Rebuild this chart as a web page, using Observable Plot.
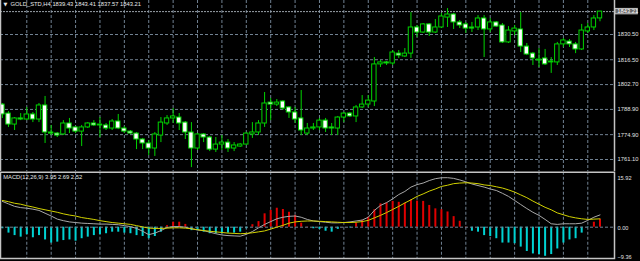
<!DOCTYPE html>
<html><head><meta charset="utf-8">
<script src="https://cdn.jsdelivr.net/npm/d3@7"></script>
<script src="https://cdn.jsdelivr.net/npm/@observablehq/plot@0.6"></script>
<style>
html,body{margin:0;padding:0;background:#000;}
#chart{width:640px;height:261px;overflow:hidden;background:#000;}
#chart svg{display:block;}
</style></head><body><div id="chart"></div>
<script>
const openP = [1791.6,1786.6,1780.5,1783.9,1783.3,1786.1,1783.3,1791.1,1776.1,1775.5,
 1775.0,1781.1,1778.9,1776.6,1778.9,1781.1,1780.5,1780.0,1778.3,1782.2,
 1778.3,1776.6,1775.5,1772.2,1770.0,1767.2,1774.4,1781.1,1783.9,1784.4,
 1781.6,1776.1,1767.2,1775.0,1773.3,1766.6,1769.4,1770.5,1767.2,1768.3,
 1769.4,1775.0,1776.1,1781.1,1792.7,1791.6,1793.3,1790.0,1787.2,1783.9,
 1775.5,1778.3,1778.9,1782.7,1778.9,1778.3,1784.4,1786.6,1785.0,1790.0,
 1791.6,1793.3,1813.9,1815.0,1814.4,1819.9,1818.3,1819.9,1834.4,1831.6,
 1836.1,1831.6,1834.4,1839.9,1841.6,1837.2,1836.1,1834.4,1834.4,1839.4,
 1833.3,1837.2,1835.5,1826.1,1832.2,1833.3,1823.8,1819.9,1816.6,1817.2,
 1815.0,1815.0,1825.0,1826.6,1825.0,1822.2,1832.2,1834.4,1839.43];
const highP = [1792.2,1787.7,1784.4,1786.6,1790.0,1787.2,1792.2,1796.1,1780.0,1776.1,
 1782.7,1783.9,1779.4,1780.0,1781.6,1782.7,1784.4,1781.1,1783.3,1786.1,
 1779.4,1777.2,1776.1,1772.8,1771.6,1776.1,1784.4,1785.5,1789.4,1786.6,
 1782.2,1781.6,1775.5,1775.5,1773.9,1773.3,1774.4,1772.2,1770.5,1770.0,
 1776.1,1781.6,1782.7,1798.3,1795.0,1794.4,1793.8,1790.5,1790.0,1799.4,
 1781.1,1781.1,1783.9,1783.9,1781.1,1785.0,1787.2,1787.2,1791.1,1796.6,
 1796.6,1817.7,1816.1,1815.5,1821.6,1821.6,1822.7,1842.7,1835.5,1836.6,
 1836.6,1838.8,1842.2,1844.9,1842.2,1838.3,1837.2,1837.2,1841.0,1841.0,
 1839.4,1837.7,1836.6,1834.9,1835.5,1842.7,1825.5,1820.5,1822.7,1822.2,
 1817.7,1826.1,1828.3,1827.7,1826.1,1836.1,1836.6,1841.0,1843.41];
const lowP = [1783.9,1778.9,1777.2,1782.7,1782.7,1781.6,1781.6,1770.0,1774.4,1773.3,
 1774.4,1775.5,1775.5,1768.3,1778.3,1779.4,1773.3,1777.2,1777.2,1777.7,
 1775.5,1775.0,1766.6,1766.6,1763.3,1762.8,1770.5,1780.0,1781.1,1777.2,
 1772.2,1756.6,1766.1,1770.5,1765.5,1765.0,1766.1,1765.0,1765.5,1767.8,
 1768.9,1772.8,1774.4,1778.9,1782.7,1790.5,1788.3,1783.9,1781.1,1774.4,
 1774.4,1777.2,1777.2,1776.1,1774.4,1774.4,1781.6,1784.4,1781.6,1789.4,
 1790.0,1790.5,1812.2,1813.3,1813.3,1817.2,1817.7,1817.2,1828.8,1831.1,
 1829.4,1831.1,1833.8,1834.4,1833.3,1833.8,1831.1,1831.6,1832.7,1817.7,
 1831.6,1834.4,1825.5,1825.5,1829.9,1820.5,1818.8,1813.3,1812.2,1813.3,
 1808.9,1813.3,1823.3,1823.3,1819.9,1821.6,1831.1,1832.7,1837.57];
const closeP = [1786.1,1780.5,1783.9,1783.3,1786.1,1783.3,1791.1,1776.1,1775.5,1774.4,
 1781.1,1778.3,1776.6,1778.9,1781.1,1780.0,1780.0,1778.3,1782.2,1778.3,
 1776.6,1775.5,1772.2,1770.0,1767.2,1775.0,1781.6,1783.9,1785.0,1781.1,
 1776.1,1767.2,1775.0,1773.3,1766.6,1769.4,1770.5,1767.2,1768.9,1769.4,
 1775.5,1776.1,1781.1,1792.2,1791.6,1792.7,1789.4,1787.2,1783.3,1777.2,
 1778.3,1778.9,1782.7,1778.3,1778.3,1784.4,1786.6,1785.0,1790.0,1791.6,
 1793.8,1813.9,1815.0,1814.4,1820.5,1818.8,1819.9,1834.4,1831.6,1836.1,
 1831.6,1834.4,1840.5,1841.6,1837.2,1835.5,1833.8,1833.8,1839.4,1833.3,
 1837.2,1834.9,1826.1,1832.7,1833.8,1823.8,1819.4,1817.2,1816.1,1813.9,
 1815.5,1825.0,1827.2,1825.0,1822.2,1832.7,1834.4,1839.4,1843.21];

const macdMain = [8.3,7.5,6.7,6.3,6.1,5.8,5.4,4.5,3.6,2.6,
 2.1,1.7,1.5,1.3,1.2,1.1,1.0,1.0,0.9,0.8,
 0.5,0.2,-0.4,-1.3,-2.4,-1.9,-1.1,-0.1,0.2,0.2,
 0.0,-0.5,-0.9,-1.1,-1.6,-2.1,-2.5,-2.7,-2.8,-2.9,
 -2.3,-1.4,-0.2,0.9,1.8,2.7,3.2,3.5,3.6,3.2,
 2.5,2.0,1.8,1.6,1.4,1.4,1.5,1.7,2.0,2.3,
 3.2,5.4,7.0,7.9,9.1,10.5,11.5,12.9,13.7,14.2,
 15.0,15.6,15.9,15.92,15.7,15.2,14.6,13.9,13.4,12.9,
 12.3,11.8,10.9,9.9,8.6,7.3,6.0,4.8,3.8,2.5,
 1.1,0.9,1.1,1.1,1.1,1.3,2.2,3.2,3.95];
const macdSignal = [8.6,8.2,7.7,7.4,6.9,6.5,6.0,5.6,5.2,4.8,
 4.3,3.9,3.6,3.1,2.8,2.5,2.1,1.8,1.5,1.3,
 1.1,0.9,0.5,0.1,-0.3,-0.4,-0.4,-0.3,-0.2,-0.2,
 -0.3,-0.5,-0.8,-1.1,-1.3,-1.5,-1.7,-1.9,-2.0,-2.1,
 -2.0,-1.8,-1.5,-1.2,-0.6,0.0,0.6,1.3,1.7,1.9,
 2.0,2.0,1.9,1.8,1.7,1.6,1.5,1.5,1.6,1.8,
 2.2,3.0,3.8,4.7,5.7,6.7,7.8,8.8,9.9,10.7,
 11.6,12.3,13.1,13.5,14.0,14.2,14.3,14.2,14.0,13.6,
 13.4,13.0,12.6,12.0,11.3,10.4,9.5,8.4,7.4,6.4,
 5.6,4.6,4.0,3.4,3.0,2.7,2.5,2.6,2.69];
const macdHist = [-0.5,-1.9,-2.7,-3.2,-2.4,-3.4,-2.7,-4.1,-5.1,-4.8,
 -4.3,-4.1,-4.5,-3.7,-3.2,-2.7,-2.4,-2.1,-1.6,-1.6,
 -1.9,-2.1,-2.7,-3.0,-3.7,-3.0,-1.6,0.5,1.6,1.6,
 0.9,-1.1,-1.1,-1.6,-2.1,-2.1,-2.1,-1.9,-1.9,-1.6,
 -0.5,0.8,1.8,4.3,5.4,6.1,5.7,4.8,3.8,1.3,
 0.1,-0.5,-0.7,-1.3,-1.6,-0.7,0.0,-0.2,1.3,2.2,
 3.2,5.6,7.5,7.8,8.3,8.0,7.7,8.8,8.4,8.3,
 7.0,5.9,5.6,4.9,3.4,1.9,0.1,-1.3,-1.6,-2.7,
 -3.0,-3.7,-5.1,-5.1,-5.3,-6.4,-7.8,-8.6,-8.8,-9.36,
 -8.8,-7.0,-5.1,-4.1,-3.7,-1.9,-0.1,1.6,2.52];

const priceTicks = [1830.50, 1816.50, 1802.70, 1788.90, 1774.90, 1761.10];
const macdTicks = [15.92, 0.00, -9.36];
const gridBars = [4,8,12,16,20,24,28,32,36,40,44,48,52,56,60,64,68,72,76,80,84,88,92,96];
const lastPrice = 1843.21;
const titleText = "GOLD_STD,H4 1839.43 1843.41 1837.57 1843.21";
const macdText = "MACD(12,26,9) 3.95 2.69 2.52";

const bars = openP.map((o, i) => ({i, o, h: highP[i], l: lowP[i], c: closeP[i]}));
const bull = bars.filter(d => d.c >= d.o);
const bear = bars.filter(d => d.c < d.o);
const main = macdMain.map((v, i) => ({i, v}));
const signal = macdSignal.map((v, i) => ({i, v}));
const hist = macdHist.map((v, i) => ({i, v}));

const GREEN = "#00d400";
const GRID = "#718293";
const BORDER = "#c4c4c4";
const FONT = "Liberation Sans";
const fmt = d3.format(".2f");
const xDef = {type: "linear", domain: [-0.31, 100.38], axis: null};
const style = {background: "#000", color: "#e0e0e0", fontFamily: FONT, overflow: "visible"};

const upper = Plot.plot({
  width: 640, height: 171, marginLeft: 0, marginRight: 26, marginTop: 0, marginBottom: 0,
  style,
  x: xDef,
  y: {domain: [1754.44, 1849.38], axis: null},
  marks: [
    Plot.gridY(priceTicks, {stroke: GRID, strokeOpacity: 1, strokeDasharray: "3,2"}),
    Plot.gridX(gridBars, {stroke: GRID, strokeOpacity: 1, strokeDasharray: "3,2"}),
    Plot.ruleY([lastPrice], {stroke: "#9aa2aa", strokeDasharray: "2,1"}),
    Plot.ruleX(bars, {x: "i", y1: "l", y2: "h", stroke: GREEN}),
    Plot.rect(bull, {x1: d => d.i - 0.36, x2: d => d.i + 0.36, y1: "o", y2: "c", fill: "#000", stroke: GREEN}),
    Plot.rect(bear, {x1: d => d.i - 0.36, x2: d => d.i + 0.36, y1: "o", y2: "c", fill: "#fff", stroke: GREEN}),
    Plot.ruleX([-0.31, 100.38], {stroke: BORDER, strokeWidth: 1.5}),
    Plot.axisY(priceTicks, {anchor: "right", tickSize: 0, tickPadding: 3, tickFormat: fmt, fill: "#e0e0e0", fontSize: 5.8}),
    Plot.rect([lastPrice], {x1: 100.55, x2: 104.2, y1: d => d - 1.5, y2: d => d + 1.5, fill: "#6a6a6a", stroke: "#c8c8c8"}),
    Plot.text([lastPrice], {x: 100.85, y: d => d, text: d => fmt(d), textAnchor: "start", fill: "#ffffff", fontSize: 5.8}),
    Plot.text(["\u25BC"], {frameAnchor: "top-left", dx: 3, dy: 1.5, lineAnchor: "top", textAnchor: "start", fill: "#e8e8e8", fontSize: 5, fontFamily: "DejaVu Sans"}),
    Plot.text([titleText], {frameAnchor: "top-left", dx: 10, dy: 1.5, lineAnchor: "top", textAnchor: "start", fill: "#e8e8e8", fontSize: 5.8})
  ]
});

const lower = Plot.plot({
  width: 640, height: 90, marginLeft: 0, marginRight: 26, marginTop: 0.75, marginBottom: 3,
  style,
  x: xDef,
  y: {domain: [-9.36, 15.92], insetTop: 5.45, insetBottom: 2.2, axis: null},
  marks: [
    Plot.gridX(gridBars, {stroke: GRID, strokeOpacity: 1, strokeDasharray: "3,2"}),
    Plot.ruleX(hist.filter(d => d.v > 0), {x: "i", y1: 0, y2: "v", stroke: "#e00000", strokeWidth: 2}),
    Plot.ruleX(hist.filter(d => d.v <= 0), {x: "i", y1: 0, y2: "v", stroke: "#00d2d2", strokeWidth: 2}),
    Plot.ruleY([0], {stroke: GRID, strokeDasharray: "3,2"}),
    Plot.line(main, {x: "i", y: "v", stroke: "#a8a8a8", strokeWidth: 1}),
    Plot.line(signal, {x: "i", y: "v", stroke: "#d2d200", strokeWidth: 1}),
    Plot.frame({stroke: BORDER, strokeWidth: 1.5}),
    Plot.text(macdTicks, {x: 100.38, y: d => d, dx: 3, dy: 0.8, text: d => fmt(d), textAnchor: "start", fill: "#e0e0e0", fontSize: 5.6}),
    Plot.text([macdText], {frameAnchor: "top-left", dx: 2.7, dy: 4.6, lineAnchor: "middle", textAnchor: "start", fill: "#e8e8e8", fontSize: 5.8})
  ]
});

const el = document.getElementById("chart");
el.appendChild(upper);
el.appendChild(lower);
</script>
</body></html>
